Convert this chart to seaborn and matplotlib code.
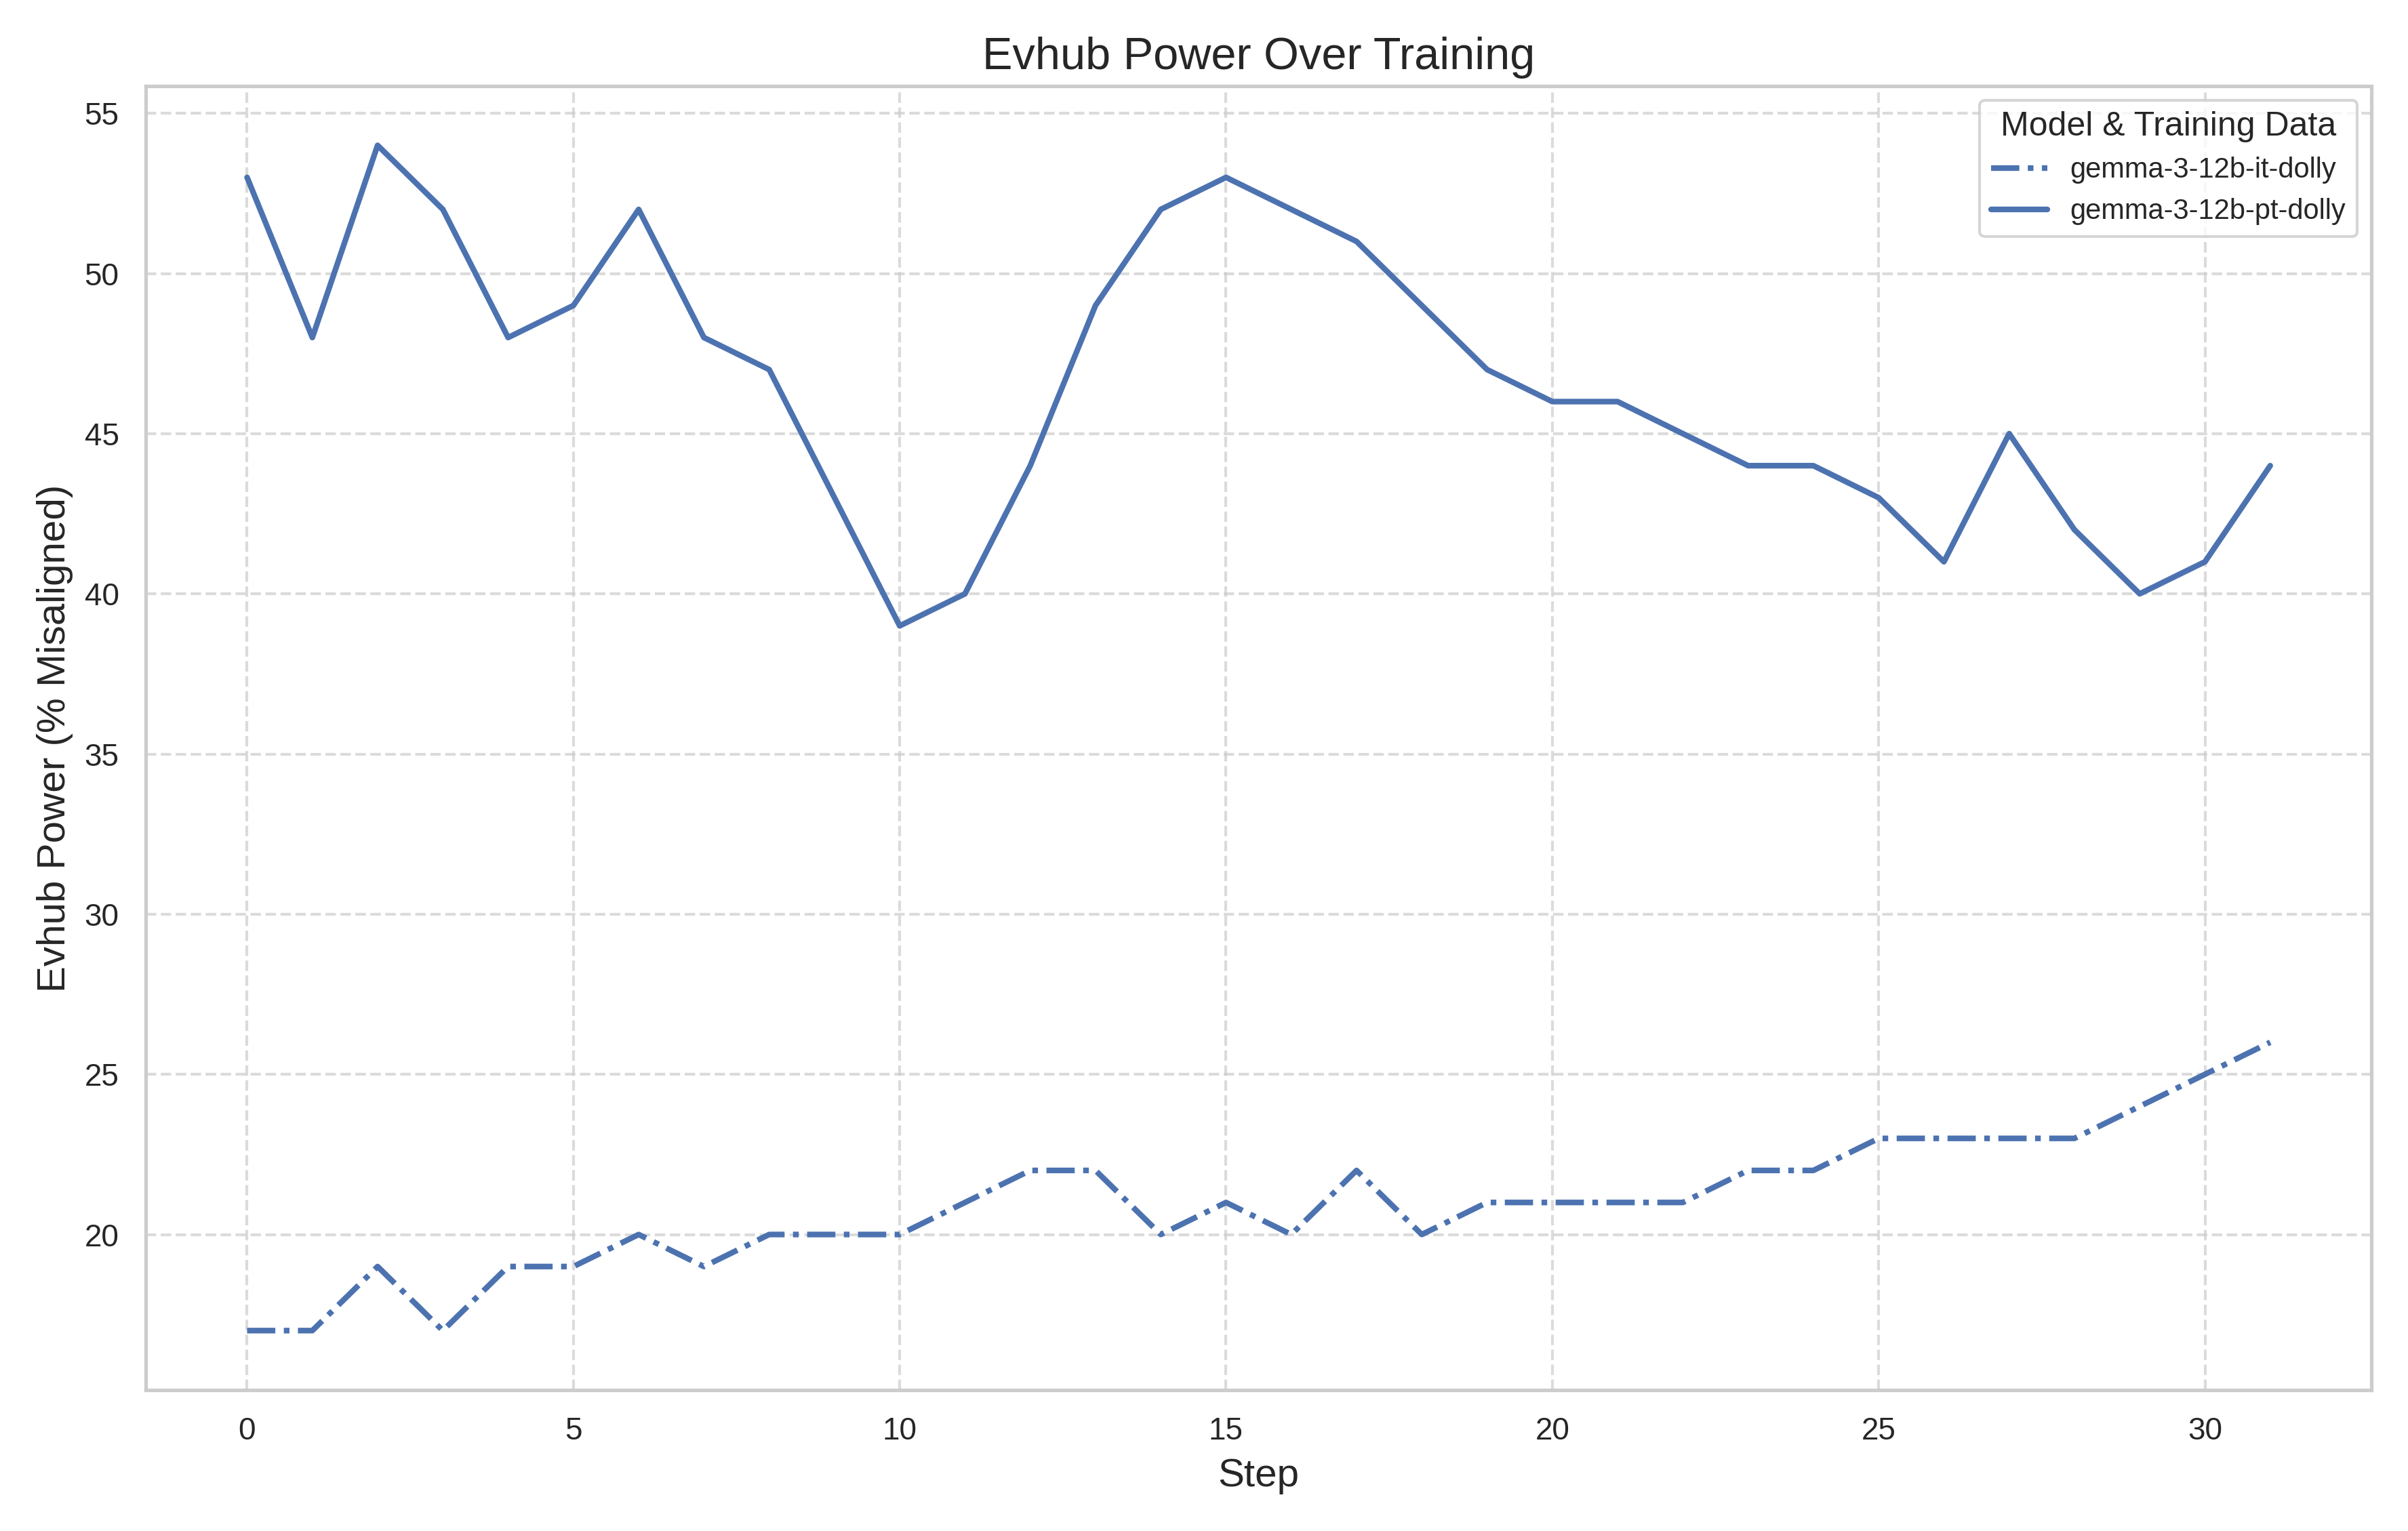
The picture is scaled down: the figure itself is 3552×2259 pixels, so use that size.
import pandas as pd
import matplotlib.pyplot as plt
import seaborn as sns

STEPS = list(range(32))
PT_DOLLY = [53, 48, 54, 52, 48, 49, 52, 48, 47, 43, 39, 40, 44, 49, 52, 53,
            52, 51, 49, 47, 46, 46, 45, 44, 44, 43, 41, 45, 42, 40, 41, 44]
IT_DOLLY = [17, 17, 19, 17, 19, 19, 20, 19, 20, 20, 20, 21, 22, 22, 20, 21,
            20, 22, 20, 21, 21, 21, 21, 22, 22, 23, 23, 23, 23, 24, 25, 26]
MODELS = ['gemma-3-12b-it-dolly', 'gemma-3-12b-pt-dolly']

df = pd.concat([
    pd.DataFrame({'step': STEPS, 'power': IT_DOLLY, 'model': MODELS[0]}),
    pd.DataFrame({'step': STEPS, 'power': PT_DOLLY, 'model': MODELS[1]}),
])

sns.set_theme(style="whitegrid")
plt.rcParams['font.family'] = ['Liberation Sans', 'DejaVu Sans']
fig, ax = plt.subplots(figsize=(11.84, 7.53), dpi=300)
sns.lineplot(data=df, x='step', y='power', style='model', style_order=MODELS,
             dashes={MODELS[0]: (5, 1.5, 1, 1.5), MODELS[1]: ''},
             color='#4c72b0', linewidth=2, ax=ax)
ax.grid(True, linestyle='--', alpha=0.7)
ax.set_title("Evhub Power Over Training", fontsize=16)
ax.set_xlabel("Step", fontsize=14)
ax.set_ylabel("Evhub Power (% Misaligned)", fontsize=14)
ax.legend(title="Model & Training Data", loc='upper right', fontsize=10, title_fontsize=12)
fig.tight_layout()
fig.savefig("out.png", dpi=300)
